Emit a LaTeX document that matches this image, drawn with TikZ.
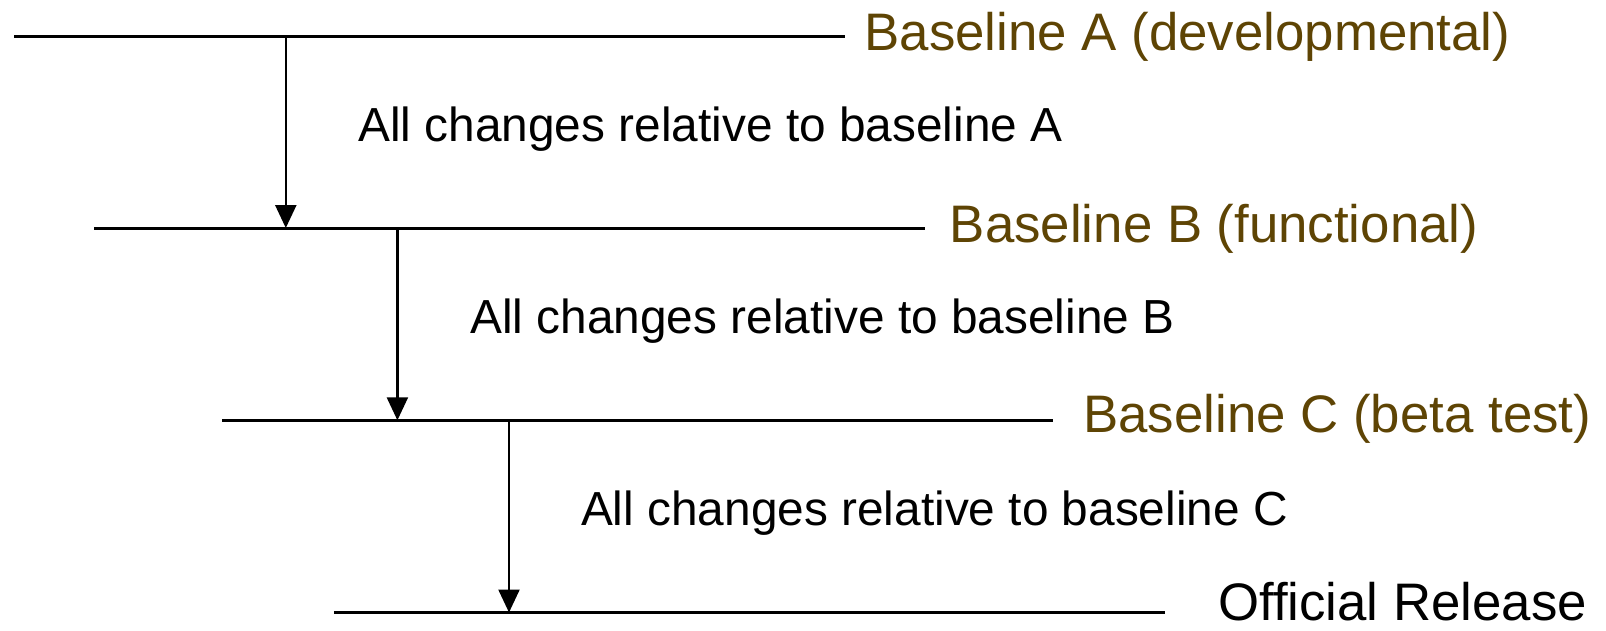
\documentclass[tikz,border=0pt]{standalone}
\usepackage{fontspec}
\setmainfont{Liberation Sans}
\usetikzlibrary{arrows.meta}
\definecolor{labelbrown}{RGB}{94,68,4}
\tikzset{
  hline/.style={line width=1.5pt},
  varrow/.style={line width=1.2pt,-{Triangle[length=11.5pt,width=10.5pt]}},
  blabel/.style={anchor=base west,inner sep=0pt,text=labelbrown,font=\fontsize{26.4pt}{30pt}\selectfont},
  rlabel/.style={anchor=base west,inner sep=0pt,text=black,font=\fontsize{26.4pt}{30pt}\selectfont},
  mlabel/.style={anchor=base west,inner sep=0pt,text=black,font=\fontsize{23.9pt}{28pt}\selectfont}
}
\begin{document}
\begin{tikzpicture}[x=0.5pt,y=-0.5pt]
\useasboundingbox (0,0) rectangle (1606,631);
% baselines
\coordinate (a1) at (14.3,36.9);   \coordinate (a2) at (845,36.9);
\coordinate (b1) at (94.2,228);    \coordinate (b2) at (924.9,228);
\coordinate (c1) at (222.3,420.3); \coordinate (c2) at (1052.9,420.3);
\coordinate (d1) at (333.9,612.5); \coordinate (d2) at (1164.5,612.5);
\draw[hline] (a1) -- (a2);
\draw[hline] (b1) -- (b2);
\draw[hline] (c1) -- (c2);
\draw[hline] (d1) -- (d2);
% labels
\node[blabel] (la) at (864.2,50.7) {Baseline A (developmental)};
\node[blabel] (lb) at (949.5,242.7) {Baseline B (functional)};
\node[blabel] (lc) at (1083,432.3) {Baseline C (beta test)};
\node[rlabel] (ld) at (1217.8,620) {Official Release};
% arrows
\coordinate (as) at (285.8,36.9);  \coordinate (ae) at (285.8,228);
\coordinate (bs) at (397.4,228);   \coordinate (be) at (397.4,420.3);
\coordinate (cs) at (509.0,420.3); \coordinate (ce) at (509.0,612.5);
\draw[varrow] (as) -- (ae);
\draw[varrow] (bs) -- (be);
\draw[varrow] (cs) -- (ce);
% middle texts
\node[mlabel] (ma) at (358,141.7) {All changes relative to baseline A};
\node[mlabel] (mb) at (470,333.3) {All changes relative to baseline B};
\node[mlabel] (mc) at (580.7,525) {All changes relative to baseline C};
\end{tikzpicture}
\end{document}
